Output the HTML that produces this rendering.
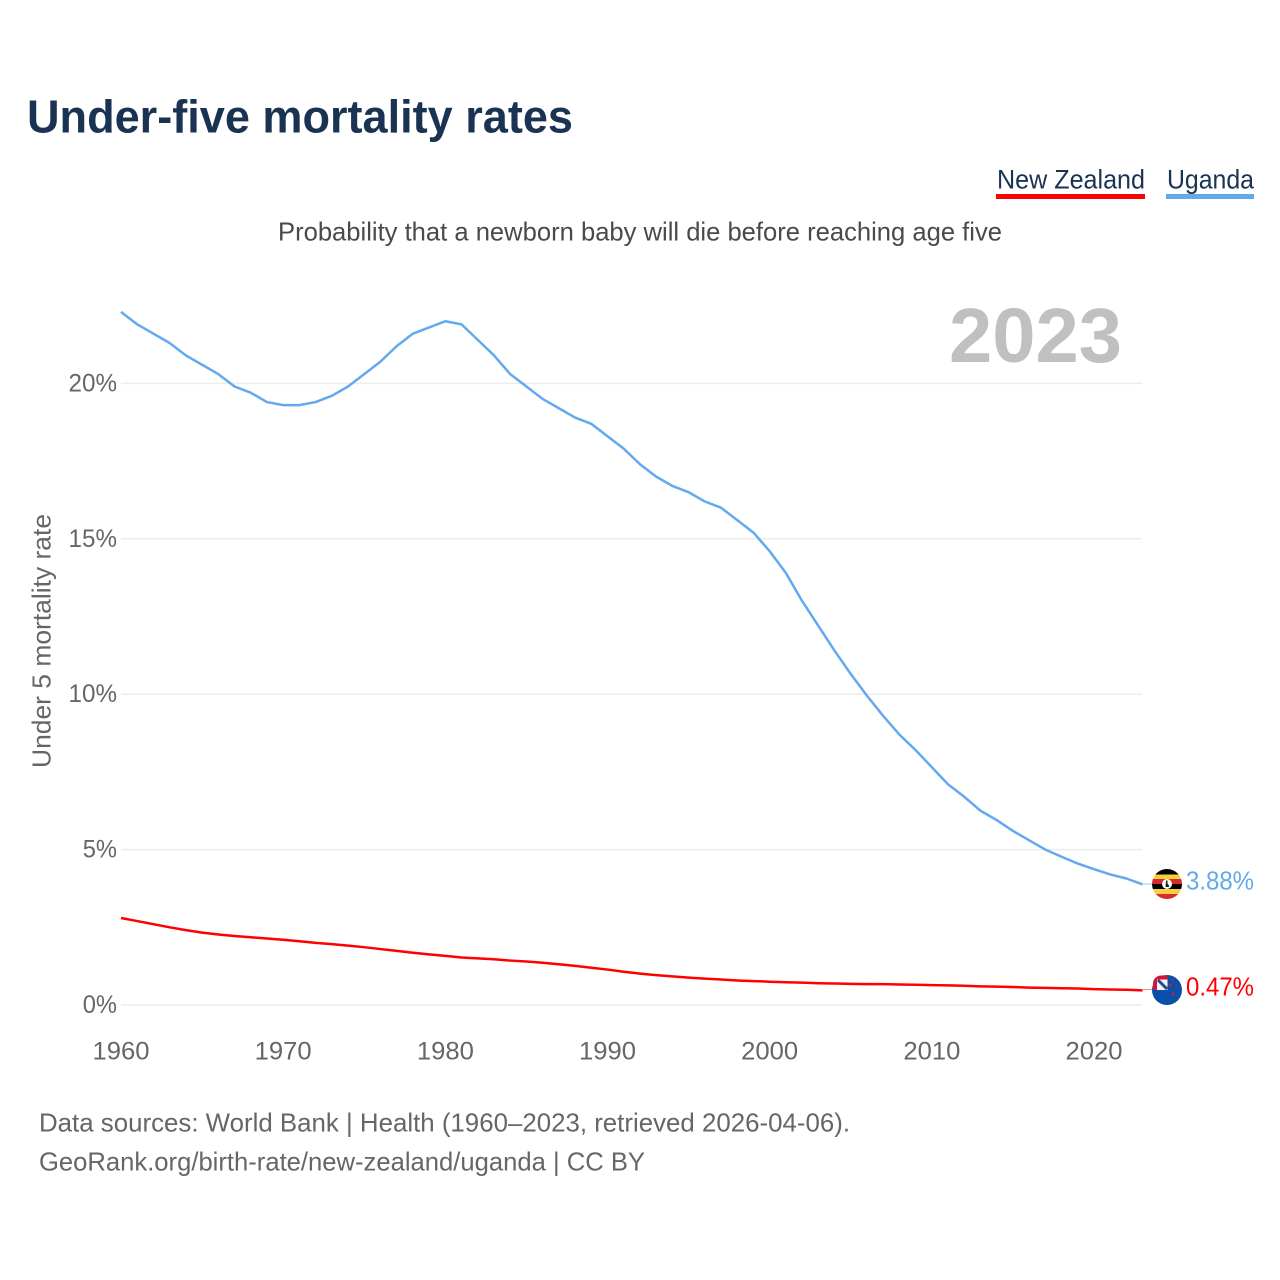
<!DOCTYPE html>
<html lang="en">
<head>
<meta charset="utf-8">
<title>Under-five mortality rates</title>
<style>
html,body{margin:0;padding:0;background:#fff;width:1280px;height:1280px;overflow:hidden}
svg{display:block}
text{font-family:"Liberation Sans",sans-serif}
</style>
</head>
<body>
<svg id="chart" width="1280" height="1280" viewBox="0 0 1280 1280" xmlns="http://www.w3.org/2000/svg">
<defs>
<clipPath id="ug-clip"><circle cx="1167" cy="884" r="15"/></clipPath>
<clipPath id="nz-clip"><circle cx="1167" cy="990" r="15"/></clipPath>
<clipPath id="nz-jack-clip"><path d="M1167.500 975.500H1161a8 8 0 0 0-8 8V990h14.500z"/></clipPath>
</defs>
<text x="27" y="132.500" font-size="46" font-weight="700" fill="#1a3353" textLength="546" lengthAdjust="spacingAndGlyphs">Under-five mortality rates</text>
<g>
<text x="997" y="188.500" font-size="27" fill="#1a3353" textLength="148" lengthAdjust="spacingAndGlyphs">New Zealand</text>
<rect x="996" y="194" width="149" height="5" fill="#ff0000"/>
<text x="1167" y="188.500" font-size="27" fill="#1a3353" textLength="87" lengthAdjust="spacingAndGlyphs">Uganda</text>
<rect x="1166" y="194" width="88" height="5" fill="#64a9ee"/>
</g>
<text x="278" y="240.500" font-size="26" fill="#4a4a4a" textLength="724" lengthAdjust="spacingAndGlyphs">Probability that a newborn baby will die before reaching age five</text>
<text x="949" y="362" font-size="77" font-weight="700" fill="#c0c0c0" textLength="173" lengthAdjust="spacingAndGlyphs">2023</text>
<g id="grid"></g>
<g id="y-ticks"></g>
<g id="x-ticks"></g>
<text transform="translate(50.500,641) rotate(-90)" text-anchor="middle" font-size="26" fill="#666666" textLength="254" lengthAdjust="spacingAndGlyphs">Under 5 mortality rate</text>
<g id="series"></g>
<line x1="1142" y1="884" x2="1153" y2="884" stroke="#9cc8f3" stroke-width="1"/>
<line x1="1142" y1="989.500" x2="1153" y2="989.500" stroke="#ff8a8a" stroke-width="1"/>
<g clip-path="url(#ug-clip)">
<rect x="1152" y="869" width="30" height="5.500" fill="#000000"/>
<rect x="1152" y="874.500" width="30" height="4.500" fill="#f5cf3c"/>
<rect x="1152" y="879" width="30" height="5" fill="#d92b2b"/>
<rect x="1152" y="884" width="30" height="5" fill="#000000"/>
<rect x="1152" y="889" width="30" height="5" fill="#f5cf3c"/>
<rect x="1152" y="894" width="30" height="5" fill="#d92b2b"/>
<circle cx="1167" cy="884" r="5" fill="#ffffff"/>
<path d="M1166 880.500h1.500v3l1.500 2v1.500h-3.500z" fill="#222222"/>
</g>
<g>
<g clip-path="url(#nz-clip)">
<rect x="1152" y="975" width="30" height="30" fill="#0a50a8"/>
</g>
<g clip-path="url(#nz-jack-clip)">
<rect x="1153" y="975" width="15" height="15" fill="#d2153a"/>
<rect x="1157" y="979.500" width="11" height="10.500" fill="#f4f4f8"/>
<path d="M1158 980l9 9" stroke="#274a8f" stroke-width="3"/>
</g>
<circle cx="1170" cy="985" r="1.300" fill="#d2153a"/>
<circle cx="1176" cy="986" r="1" fill="#d2153a"/>
<circle cx="1173" cy="994" r="1.500" fill="#d2153a"/>
<circle cx="1172" cy="980" r="1" fill="#d2153a"/>
</g>
<g id="end-labels"></g>
<text x="39" y="1131.500" font-size="26" fill="#666666" textLength="811" lengthAdjust="spacingAndGlyphs">Data sources: World Bank | Health (1960–2023, retrieved 2026-04-06).</text>
<text x="39" y="1170.500" font-size="26" fill="#666666" textLength="606" lengthAdjust="spacingAndGlyphs">GeoRank.org/birth-rate/new-zealand/uganda | CC BY</text>
</svg>
<script>
const startYear = 1960;
const ugandaValues = [22.3,21.9,21.6,21.3,20.9,20.6,20.3,19.9,19.7,19.4,19.3,19.3,19.4,19.6,19.9,20.3,20.7,21.2,21.6,21.8,22.0,21.9,21.4,20.9,20.3,19.9,19.5,19.2,18.9,18.7,18.3,17.9,17.4,17.0,16.7,16.5,16.2,16.0,15.6,15.2,14.6,13.9,13.0,12.2,11.4,10.65,9.95,9.3,8.7,8.2,7.65,7.1,6.7,6.25,5.95,5.6,5.3,5.0,4.77,4.55,4.37,4.2,4.07,3.88];
const newZealandValues = [2.8,2.7,2.6,2.5,2.41,2.33,2.27,2.22,2.18,2.14,2.1,2.05,2.0,1.96,1.91,1.86,1.8,1.74,1.68,1.63,1.58,1.53,1.5,1.47,1.43,1.4,1.36,1.31,1.26,1.2,1.14,1.07,1.01,0.96,0.92,0.88,0.85,0.82,0.79,0.77,0.75,0.73,0.72,0.7,0.69,0.68,0.67,0.67,0.66,0.65,0.64,0.63,0.62,0.6,0.59,0.58,0.56,0.55,0.54,0.53,0.51,0.5,0.49,0.47];
const yTickValues = [0,5,10,15,20];
const yTickLabels = ["0%","5%","10%","15%","20%"];
const xTickValues = [1960,1970,1980,1990,2000,2010,2020];
const xTickLabels = ["1960","1970","1980","1990","2000","2010","2020"];
const endLabels = ["3.88%","0.47%"];

const SVG_NS = "http://www.w3.org/2000/svg";
function xScale(year){ return 121 + (year - 1960) * 16.217; }
function yScale(v){ return 1005 - v * 31.08; }
function make(tag, attrs, text){
  const el = document.createElementNS(SVG_NS, tag);
  for (const k in attrs) el.setAttribute(k, attrs[k]);
  if (text !== undefined) el.textContent = text;
  return el;
}
const grid = document.getElementById('grid');
const yTicks = document.getElementById('y-ticks');
yTickValues.forEach(function(v, i){
  const ln = make('line', {x1:121, x2:1142, y1:yScale(v), y2:yScale(v), stroke:'#ececec', 'stroke-width':1.5});
  
  
  grid.appendChild(ln);
  const t = make('text', {x:117, y:yScale(v)+8, 'text-anchor':'end', 'font-size':25, fill:'#666666', textLength:(yTickLabels[i].length-1)*14.25+20, lengthAdjust:'spacingAndGlyphs'}, yTickLabels[i]);
  
  
  yTicks.appendChild(t);
});
const xTicks = document.getElementById('x-ticks');
xTickValues.forEach(function(v, i){
  const t = make('text', {x:xScale(v), y:1059.5, 'text-anchor':'middle', 'font-size':25, fill:'#666666', textLength:xTickLabels[i].length*14.25, lengthAdjust:'spacingAndGlyphs'}, xTickLabels[i]);
  
  
  xTicks.appendChild(t);
});
function linePoints(values){
  return values.map(function(v, i){
    return xScale(startYear + i).toFixed(2) + ',' + yScale(v).toFixed(2);
  }).join(' ');
}
const series = document.getElementById('series');
const ugLine = make('polyline', {points:linePoints(ugandaValues), fill:'none', stroke:'#64a9ee', 'stroke-width':2.5, 'stroke-linejoin':'round'});


series.appendChild(ugLine);
const nzLine = make('polyline', {points:linePoints(newZealandValues), fill:'none', stroke:'#ff0000', 'stroke-width':2.5, 'stroke-linejoin':'round'});


series.appendChild(nzLine);
const labels = document.getElementById('end-labels');
const ugLabel = make('text', {x:1186, y:889.5, 'font-size':25.5, fill:'#64a9ee', textLength:68, lengthAdjust:'spacingAndGlyphs'}, endLabels[0]);


labels.appendChild(ugLabel);
const nzLabel = make('text', {x:1186, y:995.5, 'font-size':25.5, fill:'#ff0000', textLength:68, lengthAdjust:'spacingAndGlyphs'}, endLabels[1]);


labels.appendChild(nzLabel);
</script>
</body>
</html>
